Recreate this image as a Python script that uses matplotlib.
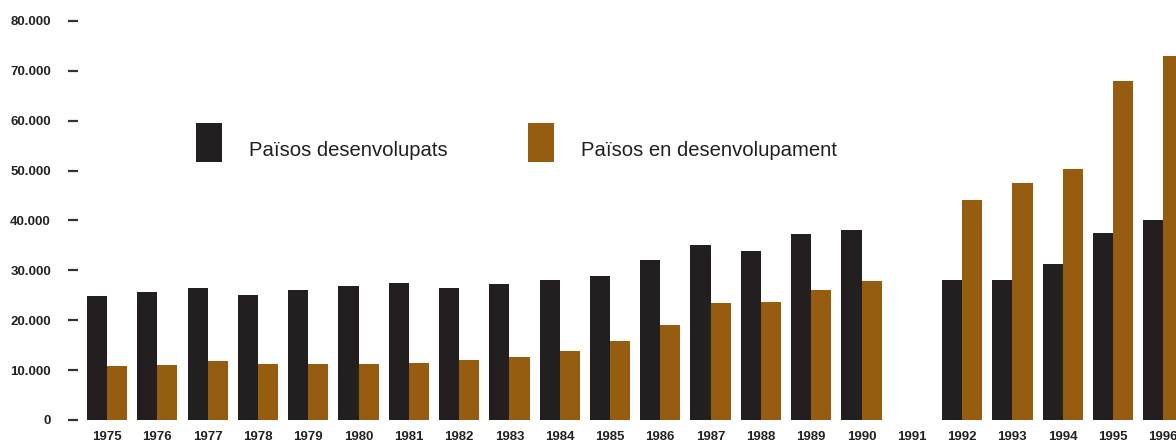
import numpy as np
import matplotlib.pyplot as plt
from matplotlib.patches import Rectangle
from matplotlib.ticker import FuncFormatter

plt.rcParams['font.family'] = ['Liberation Sans', 'DejaVu Sans']

years = [str(y) for y in range(1975, 1997)]
desenvolupats = [24900, 25700, 26500, 25100, 26100, 26900, 27500, 26500, 27300, 28100,
                 28900, 32100, 35100, 33900, 37300, 38000, np.nan, 28100, 28100, 31300,
                 37500, 40000]
en_desenvolupament = [10800, 11000, 11800, 11200, 11200, 11200, 11400, 12000, 12700, 13900,
                      15900, 19100, 23500, 23700, 26100, 27900, np.nan, 44200, 47600, 50400,
                      67900, 72900]
legend_labels = ['Països desenvolupats', 'Països en desenvolupament']

black = '#231f20'
brown = '#965c0f'

W, H = 1176, 443
fig = plt.figure(figsize=(W / 100, H / 100), dpi=100)
ax = fig.add_axes([78 / W, 23 / H, 1 - 78 / W, 399 / H])

x = np.arange(len(years))
w = 0.4
ax.bar(x - w / 2, desenvolupats, width=w, color=black, linewidth=0)
ax.bar(x + w / 2, en_desenvolupament, width=w, color=brown, linewidth=0)

ax.set_xlim(-0.577, (W - 107) / 50.3)
ax.set_ylim(0, 80000)
ax.set_yticks(np.arange(0, 80001, 10000))
ax.yaxis.set_major_formatter(FuncFormatter(lambda v, p: f"{int(v):,}".replace(',', '.')))
ax.set_xticks(x)
ax.set_xticklabels(years)

for s in ax.spines.values():
    s.set_visible(False)
ax.tick_params(axis='y', length=7.5, width=1.6, color='#333333', pad=12,
               labelsize=9.5, labelcolor='#222222')
ax.tick_params(axis='x', length=0, pad=8, labelsize=9.5, labelcolor='#222222')
for lab in ax.get_xticklabels() + ax.get_yticklabels():
    lab.set_fontweight('bold')

# legend
for (x0, col), lab, tx in zip([(196, black), (528, brown)], legend_labels, [249, 581]):
    fig.add_artist(Rectangle((x0 / W, 1 - 162 / H), 26 / W, 39 / H,
                             transform=fig.transFigure, color=col, lw=0))
    fig.text(tx / W, 1 - 150 / H, lab, fontsize=14.6, color='#231f20', va='center', ha='left')

fig.savefig('out.png', dpi=100)
